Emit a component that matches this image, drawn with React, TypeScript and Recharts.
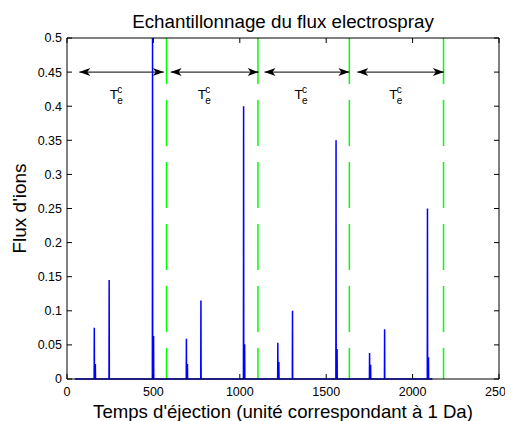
import React from "react";
import {
  LineChart,
  Line,
  XAxis,
  YAxis,
  ReferenceLine,
  ReferenceDot,
} from "recharts";

// values
const xTicks = [0, 500, 1000, 1500, 2000, 2500];
const yTicks = [0, 0.05, 0.1, 0.15, 0.2, 0.25, 0.3, 0.35, 0.4, 0.45, 0.5];

const spikeX = [158, 244, 495, 691, 775, 1022, 1220, 1305, 1557, 1751, 1838, 2086];
const spikeHeight = [0.075, 0.145, 0.5, 0.059, 0.115, 0.4, 0.053, 0.1, 0.35, 0.038, 0.073, 0.25];
const tailHeight = [0.022, 0, 0.063, 0.022, 0, 0.051, 0.025, 0, 0.044, 0.021, 0, 0.032];
const signalStart = 46;
const signalEnd = 2115;

const periodMarks = [576, 1105, 1634, 2179];
const arrowFrom = [71, 600, 1143, 1680];
const arrowTo = [560, 1109, 1634, 2181];
const arrowLevel = 0.45;
const labelX = [248, 756, 1316, 1865];
const labelLevel = 0.41;

const title = "Echantillonnage du flux electrospray";
const xLabel = "Temps d'éjection (unité correspondant à 1 Da)";
const yLabel = "Flux d'ions";

// each spike: rise and fall around its x, plus the small tail one step to the right
const signal: { x: number; y: number }[] = [{ x: signalStart, y: 0 }];
spikeX.forEach((x, i) => {
  signal.push({ x: x - 1, y: 0 }, { x, y: spikeHeight[i] }, { x: x + 1, y: 0 });
  if (tailHeight[i] > 0) {
    signal.push({ x: x + 5, y: 0 }, { x: x + 6, y: tailHeight[i] }, { x: x + 7, y: 0 });
  }
});
signal.push({ x: signalEnd, y: 0 });

const DoubleArrow = (props: any) => {
  const { x1, y1, x2 } = props;
  const a = Math.min(x1, x2);
  const b = Math.max(x1, x2);
  const y = y1;
  return (
    <g>
      <line x1={a} y1={y} x2={b} y2={y} stroke="#000" strokeWidth={1} />
      <polygon
        points={`${a},${y} ${a + 11},${y - 4} ${a + 8},${y} ${a + 11},${y + 4}`}
        fill="#000"
      />
      <polygon
        points={`${b},${y} ${b - 11},${y - 4} ${b - 8},${y} ${b - 11},${y + 4}`}
        fill="#000"
      />
    </g>
  );
};

const PeriodLabel = (props: any) => {
  const { cx, cy } = props;
  return (
    <g fill="#000">
      <text x={cx} y={cy} fontSize={13.5}>
        T
      </text>
      <text x={cx + 7.5} y={cy - 6.6} fontSize={10}>
        c
      </text>
      <text x={cx + 7.5} y={cy + 4.7} fontSize={10}>
        e
      </text>
    </g>
  );
};

const NoTick = () => <g />;

export default function App() {
  return (
    <div style={{ fontFamily: "'Liberation Sans', Arial, sans-serif" }}>
      <LineChart
        width={505}
        height={413}
        data={signal}
        margin={{ top: 29, right: 13, bottom: 0, left: 0 }}
      >
        <XAxis
          dataKey="x"
          type="number"
          domain={[0, 2500]}
          ticks={xTicks}
          height={42}
          stroke="#000"
          tickSize={-5}
          tickMargin={13}
          tick={{ fill: "#000", fontSize: 12.5 }}
          label={{
            value: xLabel,
            position: "insideBottom",
            offset: 3.3,
            fill: "#000",
            fontSize: 18.6,
          }}
        />
        <XAxis
          xAxisId="top"
          dataKey="x"
          orientation="top"
          type="number"
          domain={[0, 2500]}
          ticks={xTicks}
          height={1}
          stroke="#000"
          tickSize={-5}
          tick={NoTick}
          label={{
            value: title,
            position: "top",
            offset: 9.3,
            fill: "#000",
            fontSize: 18.8,
          }}
        />
        <YAxis
          type="number"
          domain={[0, 0.5]}
          ticks={yTicks}
          width={59}
          stroke="#000"
          tickSize={-5}
          tickMargin={10}
          tick={{ fill: "#000", fontSize: 12.5 }}
          label={{
            value: yLabel,
            angle: -90,
            position: "insideLeft",
            offset: 11.5,
            fill: "#000",
            fontSize: 19,
            style: { textAnchor: "middle" },
          }}
        />
        <YAxis
          yAxisId="right"
          orientation="right"
          type="number"
          domain={[0, 0.5]}
          ticks={yTicks}
          width={1}
          stroke="#000"
          tickSize={-5}
          tick={NoTick}
        />
        {periodMarks.map((x) => (
          <ReferenceLine
            key={`p${x}`}
            segment={[
              { x, y: 0.5 },
              { x, y: 0 },
            ]}
            stroke="#00ff00"
            strokeWidth={1.5}
            strokeDasharray="46 16"
          />
        ))}
        {arrowFrom.map((x, i) => (
          <ReferenceLine
            key={`a${i}`}
            segment={[
              { x, y: arrowLevel },
              { x: arrowTo[i], y: arrowLevel },
            ]}
            shape={DoubleArrow}
          />
        ))}
        {labelX.map((x, i) => (
          <ReferenceDot key={`l${i}`} x={x} y={labelLevel} shape={PeriodLabel} />
        ))}
        {/* binds the box axes (top, right) so they get drawn */}
        <Line
          xAxisId="top"
          yAxisId="right"
          dataKey="y"
          stroke="none"
          dot={false}
          activeDot={false}
          isAnimationActive={false}
        />
        <Line
          dataKey="y"
          type="linear"
          stroke="#0000ff"
          strokeWidth={1.5}
          dot={false}
          activeDot={false}
          isAnimationActive={false}
        />
      </LineChart>
    </div>
  );
}
